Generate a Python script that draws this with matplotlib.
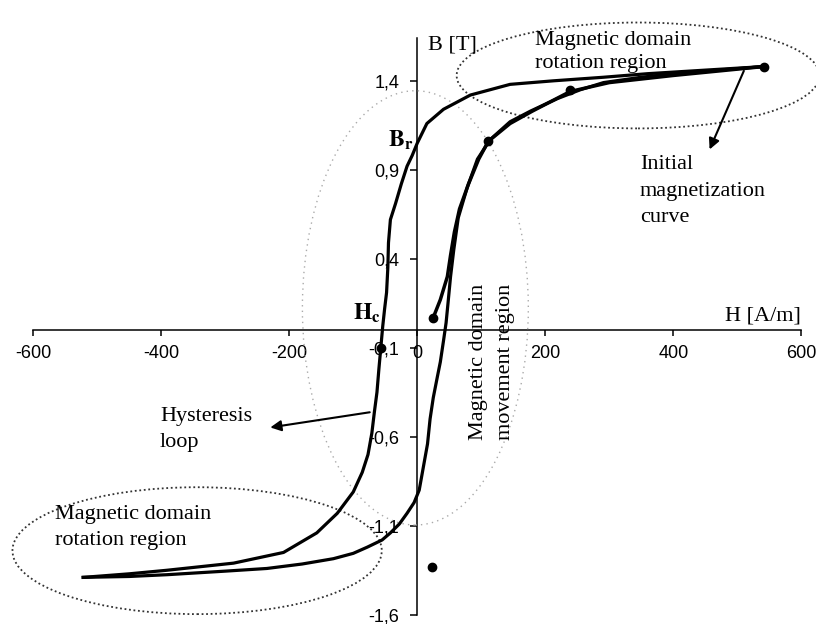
import matplotlib
matplotlib.use("Agg")
import matplotlib.pyplot as plt
from matplotlib.patches import Ellipse

# --- data (H in A/m, B in T) ---
asc_H = [-522, -450, -391, -300, -235, -180, -131, -100, -78, -55, -42, -28, -16, -5, 3, 8,
         16, 20, 25, 31, 36, 41, 45, 48, 52, 57, 64, 78, 94, 114, 145, 177, 219, 255, 291,
         350, 400, 470, 541]
asc_B = [-1.39, -1.385, -1.375, -1.355, -1.34, -1.315, -1.285, -1.255, -1.22, -1.18, -1.14,
         -1.09, -1.03, -0.97, -0.90, -0.80, -0.64, -0.50, -0.38, -0.27, -0.18, -0.06, 0.04,
         0.15, 0.30, 0.45, 0.63, 0.80, 0.96, 1.07, 1.17, 1.23, 1.30, 1.35, 1.39, 1.42, 1.44,
         1.46, 1.48]

desc_H = [541, 450, 360, 291, 213, 145, 83, 41, 15, 0, -8, -16, -25, -34, -42, -45, -46, -48,
          -51, -54, -57, -60, -63, -67, -71, -77, -86, -100, -125, -157, -209, -287, -391,
          -450, -522]
desc_B = [1.48, 1.46, 1.44, 1.42, 1.40, 1.38, 1.32, 1.24, 1.16, 1.05, 0.98, 0.92, 0.82, 0.71,
          0.62, 0.49, 0.35, 0.21, 0.12, 0.02, -0.10, -0.22, -0.35, -0.46, -0.58, -0.70, -0.80,
          -0.91, -1.03, -1.14, -1.25, -1.31, -1.35, -1.37, -1.39]

init_H = [25, 36, 47, 52, 58, 66, 80, 96, 111, 145, 180, 239, 300, 400, 541]
init_B = [0.07, 0.17, 0.30, 0.42, 0.55, 0.68, 0.82, 0.96, 1.06, 1.16, 1.23, 1.34, 1.39, 1.43, 1.48]

dot_H = [541, 25, 111, 239, -57, 23]
dot_B = [1.48, 0.07, 1.06, 1.35, -0.10, -1.33]

xticks = [-600, -400, -200, 0, 200, 400, 600]
yticks = [1.4, 0.9, 0.4, -0.1, -0.6, -1.1, -1.6]

serif = "Liberation Serif"
sans = "Liberation Sans"
plt.rcParams["mathtext.fontset"] = "stix"

fig = plt.figure(figsize=(8.16, 6.24), dpi=100)
ax = fig.add_axes([0, 0, 1, 1])
ax.set_xlim(-652, 623)
ax.set_ylim(-1.652, 1.854)

# axes through the origin
for side in ("top", "right"):
    ax.spines[side].set_visible(False)
ax.spines["left"].set_position(("data", 0))
ax.spines["bottom"].set_position(("data", 0))
ax.spines["left"].set_bounds(-1.6, 1.64)
ax.spines["bottom"].set_bounds(-600, 600)
for side in ("left", "bottom"):
    ax.spines[side].set_linewidth(1.1)
    ax.spines[side].set_zorder(1)

ax.set_xticks(xticks)
ax.set_xticklabels([str(v) for v in xticks], fontfamily=sans, fontsize=13)
ax.set_yticks(yticks)
ax.set_yticklabels([f"{v:.1f}".replace(".", ",") for v in yticks], fontfamily=sans, fontsize=13)
ax.tick_params(axis="x", direction="out", length=4, width=1.1, pad=7)
ax.tick_params(axis="y", direction="out", length=5, width=1.1, pad=8)
ax.patch.set_visible(False)

# dotted region ellipses
ax.add_patch(Ellipse((345, 1.43), 567, 0.595, fill=False, ls=(0, (1, 1.5)),
                     lw=1.3, ec="#333333", zorder=2))
ax.add_patch(Ellipse((-344, -1.24), 577, 0.713, fill=False, ls=(0, (1, 1.5)),
                     lw=1.3, ec="#333333", zorder=2))
ax.add_patch(Ellipse((-3, 0.124), 353, 2.44, fill=False, ls=(0, (1, 3)),
                     lw=1.0, ec="#aaaaaa", zorder=2))

# curves
ax.plot(asc_H, asc_B, color="black", lw=2.3, zorder=3)
ax.plot(desc_H, desc_B, color="black", lw=2.3, zorder=3)
ax.plot(init_H, init_B, color="black", lw=2.5, zorder=3)
ax.plot(dot_H, dot_B, "o", color="black", ms=6, zorder=4)

# labels
ax.text(16, 1.60, "B [T]", fontfamily=serif, fontsize=16, va="center", ha="left")
ax.text(481, 0.08, "H [A/m]", fontfamily=serif, fontsize=16, va="center", ha="left")
ax.text(-6, 1.07, r"$\mathbf{B}_{\mathbf{r}}$", fontsize=17, va="center", ha="right")
ax.text(-57, 0.095, r"$\mathbf{H}_{\mathbf{c}}$", fontsize=17, va="center", ha="right")

ax.text(184, 1.56, "Magnetic domain\nrotation region", fontfamily=serif, fontsize=16,
        va="center", ha="left", linespacing=1.3)
ax.text(-566, -1.11, "Magnetic domain\nrotation region", fontfamily=serif, fontsize=16,
        va="center", ha="left", linespacing=1.55)
ax.text(348, 0.78, "Initial\nmagnetization\ncurve", fontfamily=serif, fontsize=16,
        va="center", ha="left", linespacing=1.55)
ax.text(-402, -0.56, "Hysteresis\nloop", fontfamily=serif, fontsize=16,
        va="center", ha="left", linespacing=1.5)
ax.text(117, -0.18, "Magnetic domain\nmovement region", fontfamily=serif, fontsize=16,
        va="center", ha="center", rotation=90, linespacing=1.55)

# arrows
arrow = dict(arrowstyle="-|>", lw=1.5, color="black", mutation_scale=16)
ax.annotate("", xy=(-234, -0.55), xytext=(-70, -0.46), arrowprops=arrow)
ax.annotate("", xy=(455, 1.0), xytext=(512, 1.47), arrowprops=arrow)

fig.savefig("out.png", dpi=100)
